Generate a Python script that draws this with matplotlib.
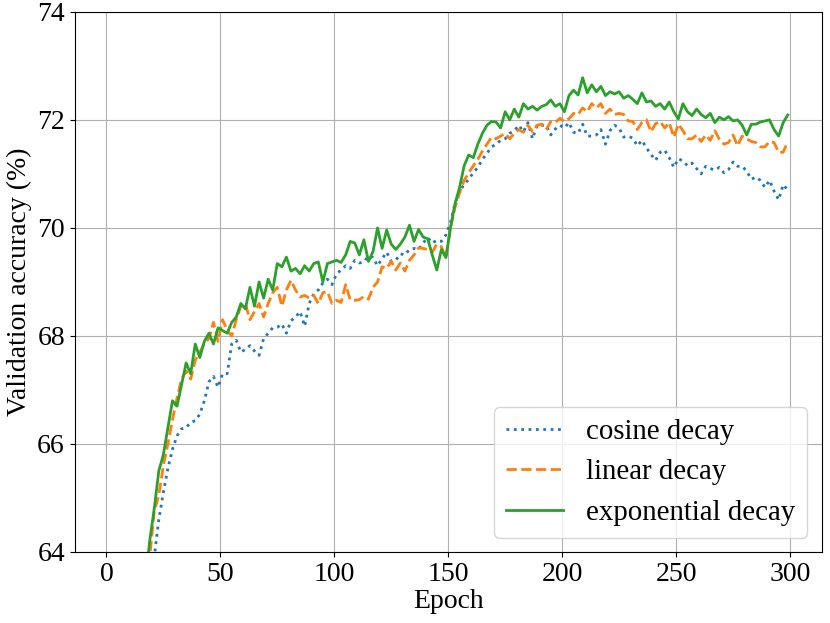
import numpy as np
import matplotlib
matplotlib.use('Agg')
import matplotlib.pyplot as plt

# validation accuracy read every 2 epochs (1, 3, ..., 299)
epochs = np.arange(1, 300, 2)

cosine = [
    42.0, 49.0, 54.0, 57.0, 59.0, 60.5, 61.5, 62.3, 62.9, 63.4,
    63.9, 64.6, 65.1, 65.55, 65.9, 66.15, 66.28, 66.3, 66.4, 66.43,
    66.55, 66.8, 67.15, 67.25, 67.05, 67.3, 67.3, 67.85, 67.92, 67.7,
    67.75, 67.82, 67.72, 67.64, 67.95, 68.05, 68.15, 68.16, 68.22, 68.05,
    68.28, 68.35, 68.45, 68.18, 68.6, 68.78, 68.85, 68.98, 69.05, 68.95,
    69.15, 69.22, 69.3, 69.25, 69.4, 69.35, 69.37, 69.48, 69.45, 69.3,
    69.43, 69.55, 69.38, 69.4, 69.52, 69.5, 69.6, 69.62, 69.6, 69.72,
    69.82, 69.72, 69.77, 69.75, 69.87, 70.1, 70.45, 70.68, 70.8, 70.9,
    71.02, 71.12, 71.27, 71.38, 71.5, 71.55, 71.62, 71.65, 71.75, 71.8,
    71.9, 71.78, 71.95, 71.65, 71.9, 71.9, 71.9, 71.72, 71.83, 71.9,
    71.85, 71.95, 71.77, 71.75, 71.92, 71.7, 71.7, 71.72, 71.82, 71.55,
    71.8, 71.9, 71.85, 71.68, 71.7, 71.66, 71.52, 71.62, 71.48, 71.36,
    71.25, 71.4, 71.44, 71.3, 71.12, 71.28, 71.24, 71.15, 71.2, 71.1,
    71.0, 71.14, 71.1, 71.07, 71.12, 71.02, 71.08, 71.22, 71.14, 71.14,
    71.05, 70.9, 70.94, 70.88, 70.75, 70.88, 70.68, 70.52, 70.8, 70.7,
]

linear = [
    44.0, 51.0, 55.5, 58.0, 59.8, 61.0, 61.8, 62.6, 63.2, 63.9,
    64.75, 65.05, 65.6, 66.0, 66.45, 66.85, 67.2, 67.35, 67.2, 67.55,
    67.7, 67.86, 67.95, 68.25, 67.9, 68.3, 68.1, 68.0, 68.3, 68.55,
    68.6, 68.3, 68.45, 68.6, 68.35, 68.6, 68.8, 68.9, 68.55, 68.85,
    69.03, 68.85, 68.72, 68.75, 68.7, 68.75, 68.6, 68.8, 68.82, 68.6,
    68.66, 68.62, 68.95, 68.67, 68.66, 68.67, 68.73, 68.68, 68.9, 69.0,
    69.28, 69.25, 69.38, 69.22, 69.35, 69.2, 69.4, 69.5, 69.63, 69.62,
    69.6, 69.55, 69.7, 69.65, 69.45, 70.0, 70.38, 70.65, 70.88, 71.02,
    71.15, 71.27, 71.42, 71.55, 71.68, 71.65, 71.7, 71.75, 71.65, 71.75,
    71.82, 71.77, 71.9, 71.78, 71.9, 71.92, 71.82, 71.97, 71.95, 72.03,
    71.97, 72.02, 72.12, 72.1, 72.22, 72.15, 72.3, 72.22, 72.3, 72.12,
    72.2, 72.1, 72.12, 72.1, 71.98, 71.97, 71.82, 71.95, 72.0, 71.78,
    71.93, 71.97, 71.85, 71.95, 71.68, 71.92, 71.8, 71.65, 71.65, 71.72,
    71.6, 71.72, 71.62, 71.8, 71.64, 71.55, 71.58, 71.72, 71.52, 71.7,
    71.65, 71.6, 71.58, 71.5, 71.5, 71.6, 71.58, 71.4, 71.4, 71.6,
]

exponential = [
    45.0, 52.0, 56.0, 58.5, 60.0, 61.2, 62.0, 62.8, 63.4, 64.2,
    64.8, 65.5, 65.8, 66.3, 66.8, 66.7, 67.1, 67.5, 67.3, 67.85,
    67.6, 67.9, 68.05, 67.85, 68.15, 68.1, 68.05, 68.25, 68.35, 68.6,
    68.5, 68.9, 68.55, 69.0, 68.7, 69.05, 68.85, 69.34, 69.28, 69.46,
    69.2, 69.25, 69.15, 69.3, 69.2, 69.34, 69.37, 69.0, 69.34, 69.37,
    69.4, 69.36, 69.5, 69.75, 69.72, 69.5, 69.78, 69.38, 69.56, 70.0,
    69.62, 69.96, 69.7, 69.6, 69.7, 69.83, 70.05, 69.75, 69.97, 69.83,
    69.8, 69.5, 69.22, 69.6, 69.45, 70.0, 70.45, 70.75, 71.15, 71.35,
    71.3, 71.55, 71.75, 71.9, 71.97, 71.96, 71.85, 72.15, 72.0, 72.2,
    72.05, 72.3, 72.2, 72.25, 72.18, 72.25, 72.28, 72.37, 72.25, 72.3,
    72.15, 72.45, 72.55, 72.46, 72.78, 72.5, 72.65, 72.52, 72.62, 72.45,
    72.52, 72.48, 72.52, 72.4, 72.45, 72.38, 72.3, 72.5, 72.33, 72.35,
    72.25, 72.3, 72.2, 72.33, 72.15, 72.02, 72.3, 72.15, 72.08, 72.2,
    72.1, 72.04, 72.12, 71.95, 72.05, 72.0, 72.06, 71.98, 72.0, 71.9,
    71.72, 71.92, 71.92, 71.96, 71.98, 72.0, 71.82, 71.7, 71.95, 72.09,
]

plt.rcParams['font.family'] = ['Liberation Serif', 'DejaVu Serif']
plt.rcParams['font.size'] = 20

fig = plt.figure(figsize=(8.3, 6.23), dpi=100)
ax = fig.add_axes([0.090, 0.114, 0.900, 0.867])

ax.plot(epochs, cosine, ':', color='C0', lw=2, label='cosine decay')
ax.plot(epochs, linear, '--', color='C1', lw=2, label='linear decay')
ax.plot(epochs, exponential, '-', color='C2', lw=2, label='exponential decay')

ax.set_ylim(64, 74)
ax.set_yticks(np.arange(64, 75, 2))
ax.set_xticks(np.arange(0, 301, 50))
ax.set_xlabel('Epoch', labelpad=2)
ax.set_ylabel('Validation accuracy (%)')
ax.grid(True)
ax.legend(loc='lower right', fontsize=20.8)

fig.savefig('out.png', dpi=100)
